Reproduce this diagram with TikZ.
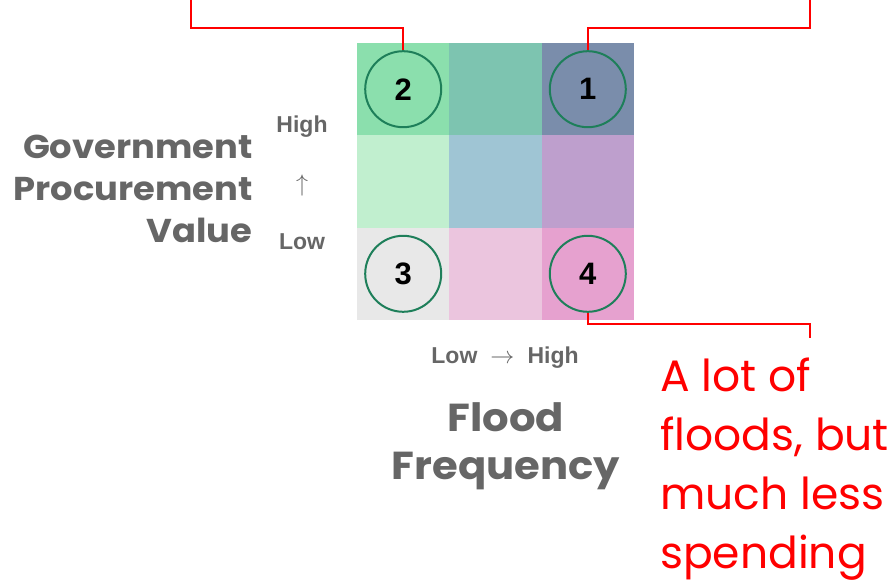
\documentclass[tikz,border=0pt]{standalone}
\usepackage{fix-cm}
\usepackage{fontspec}
\setmainfont{Poppins}
\newfontfamily\labf{Poppins}[FakeStretch=1.07]
\newfontfamily\arialf{Liberation Sans}
\definecolor{cA}{HTML}{8BDFAD}
\definecolor{cB}{HTML}{7DC4B0}
\definecolor{cC}{HTML}{7A8DAB}
\definecolor{cD}{HTML}{C1EFCF}
\definecolor{cE}{HTML}{9FC5D4}
\definecolor{cF}{HTML}{BE9FCD}
\definecolor{cG}{HTML}{E8E8E8}
\definecolor{cH}{HTML}{EBC5DE}
\definecolor{cI}{HTML}{E6A1CF}
\definecolor{ringc}{HTML}{1E7F5A}
\definecolor{labgray}{HTML}{666666}
\definecolor{callred}{HTML}{FF0000}
\begin{document}
\begin{tikzpicture}[x=1pt,y=-1pt,
  cell/.style={rectangle,minimum size=92.4pt,inner sep=0pt,draw=none},
  ring/.style={circle,draw=ringc,line width=2pt,minimum size=76pt,inner sep=0pt,
     font=\arialf\bfseries\fontsize{31}{31}\selectfont},
  call/.style={draw=callred,line width=2pt},
  biglab/.style={text=labgray,font=\labf\bfseries\fontsize{33}{42}\selectfont},
  flab/.style={text=labgray,font=\labf\bfseries\fontsize{39}{48}\selectfont},
  smalllab/.style={text=labgray,font=\arialf\bfseries\fontsize{23}{23}\selectfont},
  redtext/.style={text=callred,font=\fontsize{44}{59}\selectfont,align=left,inner sep=0pt}]
\useasboundingbox (0,0) rectangle (894,585);
% grid
\node[cell,fill=cA] (g11) at (403.2,89.2) {};
\node[cell,fill=cB] (g12) at (495.5,89.2) {};
\node[cell,fill=cC] (g13) at (587.8,89.2) {};
\node[cell,fill=cD] (g21) at (403.2,181.5) {};
\node[cell,fill=cE] (g22) at (495.5,181.5) {};
\node[cell,fill=cF] (g23) at (587.8,181.5) {};
\node[cell,fill=cG] (g31) at (403.2,273.8) {};
\node[cell,fill=cH] (g32) at (495.5,273.8) {};
\node[cell,fill=cI] (g33) at (587.8,273.8) {};
% rings
\node[ring] (n2) at (403.2,89.2) {2};
\node[ring] (n1) at (587.8,89.2) {1};
\node[ring] (n3) at (403.2,273.8) {3};
\node[ring] (n4) at (587.8,273.8) {4};
% callout lines
\coordinate (k2) at (191,28);
\coordinate (e2) at (191,0);
\coordinate (k1) at (810,28);
\coordinate (e1) at (810,0);
\coordinate (k4) at (810,324);
\coordinate (e4) at (810,338);
\draw[call] (n2.north) |- (k2) -- (e2);
\draw[call] (n1.north) |- (k1) -- (e1);
\draw[call] (n4.south) |- (k4) -- (e4);
% axis labels
\node[biglab,anchor=east,align=right] (ylab) at (256,189) {Government\\Procurement\\Value};
\node[smalllab] (yhigh) at (302,127) {High};
\node[text=labgray,font=\fontsize{24}{24}\selectfont] (yarrow) at (302,186) {$\uparrow$};
\node[smalllab] (ylow) at (302,242) {Low};
\node[smalllab] (xlab) at (505,358) {Low {\mdseries\fontsize{24}{24}\selectfont\ $\rightarrow$\ } High};
\node[flab,align=center] (xtitle) at (506,446) {Flood\\Frequency};
\node[redtext,anchor=north west] (note) at (660,358) {A lot of\\floods, but\\much less\\spending};
\end{tikzpicture}
\end{document}
